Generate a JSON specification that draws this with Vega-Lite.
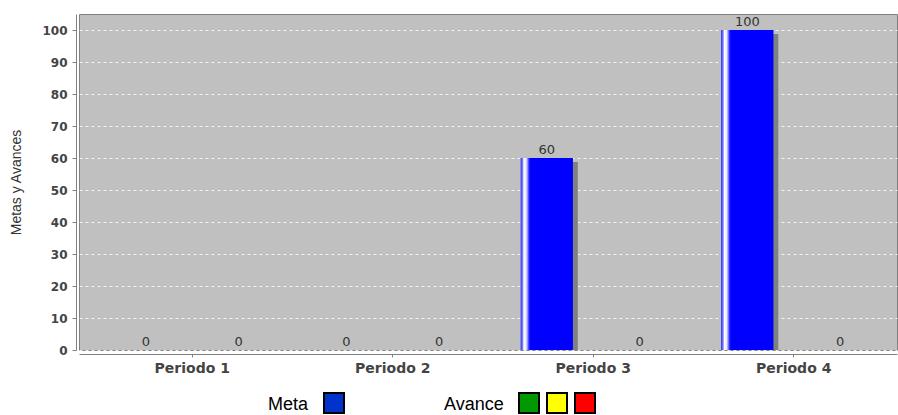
{
  "$schema": "https://vega.github.io/schema/vega-lite/v6.json",
  "autosize": {"type": "none"},
  "width": 818,
  "height": 336,
  "padding": {"left": 79, "top": 14, "right": 1, "bottom": 65},
  "background": "white",
  "data": {
    "values": [
      {"periodo": "Periodo 1", "serie": "Meta", "valor": 0, "estado": "Meta"},
      {"periodo": "Periodo 1", "serie": "Avance", "valor": 0, "estado": "Rojo"},
      {"periodo": "Periodo 2", "serie": "Meta", "valor": 0, "estado": "Meta"},
      {"periodo": "Periodo 2", "serie": "Avance", "valor": 0, "estado": "Rojo"},
      {"periodo": "Periodo 3", "serie": "Meta", "valor": 60, "estado": "Meta"},
      {"periodo": "Periodo 3", "serie": "Avance", "valor": 0, "estado": "Rojo"},
      {"periodo": "Periodo 4", "serie": "Meta", "valor": 100, "estado": "Meta"},
      {"periodo": "Periodo 4", "serie": "Avance", "valor": 0, "estado": "Rojo"}
    ]
  },
  "encoding": {
    "x": {
      "field": "periodo",
      "type": "nominal",
      "sort": null,
      "scale": {"paddingInner": 0, "paddingOuter": 0.04, "align": 0.81},
      "axis": {
        "title": null,
        "labelAngle": 0,
        "offset": 4,
        "domainColor": "#808080",
        "tickColor": "#808080",
        "tickSize": 3,
        "labelPadding": 4,
        "labelFont": "DejaVu Sans",
        "labelFontWeight": "bold",
        "labelFontSize": 14,
        "labelColor": "#444444",
        "grid": false
      }
    },
    "y": {
      "field": "valor",
      "type": "quantitative",
      "scale": {"domain": [0, 105], "nice": false},
      "axis": {
        "title": "Metas y Avances",
        "values": [0, 10, 20, 30, 40, 50, 60, 70, 80, 90, 100],
        "offset": 3,
        "domainColor": "#808080",
        "tickColor": "#808080",
        "tickSize": 4,
        "labelPadding": 5,
        "labelFont": "DejaVu Sans",
        "labelFontWeight": "bold",
        "labelFontSize": 12,
        "labelColor": "#444444",
        "titleFont": "Liberation Sans Narrow, Liberation Sans",
        "titleFontWeight": "normal",
        "titleFontSize": 14,
        "titleColor": "#333333",
        "titlePadding": 18,
        "grid": true,
        "gridColor": "#ffffff",
        "gridOpacity": 0.8,
        "gridDash": [3, 3],
        "gridWidth": 1
      }
    }
  },
  "layer": [
    {
      "transform": [{"filter": "datum.serie === 'Meta'"}],
      "mark": {"type": "bar", "fill": "#808080", "yOffset": 4, "clip": true},
      "encoding": {
        "xOffset": {
          "field": "serie",
          "type": "nominal",
          "scale": {"domain": ["Meta", "Avance"], "paddingInner": 0.44, "paddingOuter": 0.3, "align": 0.59}
        }
      }
    },
    {
      "encoding": {
        "xOffset": {
          "field": "serie",
          "type": "nominal",
          "scale": {"domain": ["Meta", "Avance"], "paddingInner": 0.44, "paddingOuter": 0.3}
        }
      },
      "layer": [
        {
          "transform": [{"filter": "datum.serie === 'Meta'"}],
          "mark": {"type": "bar"},
          "encoding": {
            "color": {
              "field": "serie",
              "type": "nominal",
              "scale": {"domain": ["Meta"], "range": ["#0033cc"]},
              "legend": {
                "title": "Meta",
                "orient": "none",
                "legendX": 189,
                "legendY": 378,
                "direction": "horizontal",
                "titleOrient": "left",
                "labelExpr": "''",
                "labelOffset": 0
              }
            }
          }
        },
        {
          "transform": [{"filter": "datum.serie === 'Avance'"}],
          "mark": {"type": "bar"},
          "encoding": {
            "color": {
              "field": "estado",
              "type": "nominal",
              "scale": {"domain": ["Verde", "Amarillo", "Rojo"], "range": ["#009900", "#ffff00", "#ff0000"]},
              "legend": {
                "title": "Avance",
                "orient": "none",
                "legendX": 365,
                "legendY": 378,
                "direction": "horizontal",
                "titleOrient": "left",
                "labelExpr": "''",
                "labelOffset": 0
              }
            }
          }
        },
        {
          "transform": [{"filter": "datum.serie === 'Meta'"}],
          "mark": {
            "type": "bar",
            "fill": {
              "gradient": "linear",
              "x1": 0, "x2": 1, "y1": 0, "y2": 0,
              "stops": [
                {"offset": 0, "color": "#3030ff"},
                {"offset": 0.035, "color": "#8080ff"},
                {"offset": 0.06, "color": "#ffffff"},
                {"offset": 0.1, "color": "#e8e8ff"},
                {"offset": 0.13, "color": "#9090ff"},
                {"offset": 0.16, "color": "#2020ff"},
                {"offset": 0.19, "color": "#0000ff"},
                {"offset": 1, "color": "#0000ff"}
              ]
            }
          }
        },
        {
          "mark": {
            "type": "text",
            "baseline": "alphabetic",
            "dy": -4,
            "font": "DejaVu Sans",
            "fontSize": 13,
            "color": "#333333"
          },
          "encoding": {"text": {"field": "valor", "type": "quantitative"}}
        }
      ],
      "resolve": {"scale": {"color": "independent"}}
    }
  ],
  "resolve": {"scale": {"xOffset": "independent", "color": "independent"}},
  "config": {
    "view": {"fill": "#c0c0c0", "stroke": "#808080", "strokeWidth": 1},
    "legend": {
      "padding": 0,
      "symbolType": "square",
      "symbolSize": 400,
      "symbolStrokeColor": "#000000",
      "symbolStrokeWidth": 2,
      "symbolOpacity": 1,
      "columnPadding": 0,
      "titleFont": "Liberation Sans",
      "titleFontSize": 18,
      "titleFontWeight": "normal",
      "titleColor": "#000000",
      "titlePadding": 14,
      "titleLimit": 200
    }
  }
}
